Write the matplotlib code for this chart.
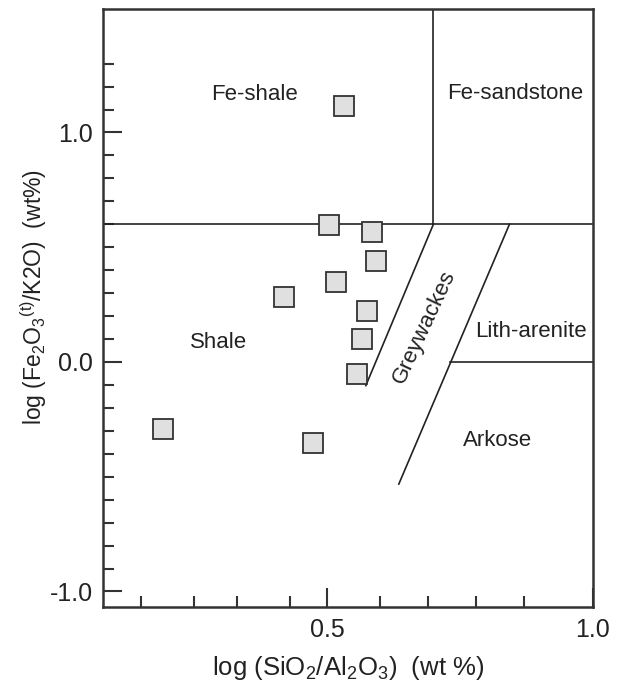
import matplotlib
matplotlib.use('Agg')
import matplotlib.pyplot as plt

plt.rcParams['font.family'] = ['Liberation Sans', 'DejaVu Sans']
plt.rcParams['mathtext.fontset'] = 'custom'
plt.rcParams['mathtext.rm'] = 'Liberation Sans'
plt.rcParams['mathtext.it'] = 'Liberation Sans:italic'

# ---------- SAMPLES ----------
log_si_al = [0.532, 0.504, 0.584, 0.592, 0.517, 0.420, 0.575, 0.565, 0.557, 0.191, 0.473]
log_fe_k = [1.115, 0.597, 0.565, 0.441, 0.347, 0.282, 0.221, 0.099, -0.052, -0.291, -0.354]

# ---------- HERRON FIELD BOUNDARIES ----------
fe_limit = 0.6
seg_x = [[0.70, 0.70], [0.70, 0.573], [0.843, 0.635], [0.732, 1.0]]
seg_y = [[0.60, 1.60], [0.60, -0.103], [0.60, -0.532], [0.0, 0.0]]

fields = ['Fe-shale', 'Fe-sandstone', 'Shale', 'Lith-arenite', 'Arkose', 'Greywackes']
field_xy = [(0.363, 1.165), (0.853, 1.168), (0.296, 0.086),
            (0.884, 0.134), (0.821, -0.341), (0.682, 0.154)]
field_rot = [0, 0, 0, 0, 0, 65]

# ---------- PLOT ----------
fig = plt.figure(figsize=(6.18, 6.82), dpi=100)
ax = fig.add_axes([0.1667, 0.11, 0.7928, 0.8768])

ink = '#222222'
ax.axhline(fe_limit, color=ink, lw=1.2)
for xs, ys in zip(seg_x, seg_y):
    ax.plot(xs, ys, color=ink, lw=1.2)

ax.plot(log_si_al, log_fe_k, ls='none', marker='s', ms=14.5,
        mfc='#e0e0e0', mec='#333333', mew=1.3, zorder=3)

for name, (tx, ty), rot in zip(fields, field_xy, field_rot):
    ax.text(tx, ty, name, ha='center', va='center', rotation=rot,
            rotation_mode='anchor', fontsize=16, color=ink)

ax.set_xlim(0.079, 1.0)
ax.set_ylim(-1.0675, 1.538)

ax.set_xticks([0.5, 1.0])
ax.set_xticklabels(['0.5', '1.0'])
ax.set_xticks([0.15, 0.25, 0.33, 0.43, 0.6, 0.69, 0.78, 0.87], minor=True)
ax.set_yticks([-1.0, 0.0, 1.0])
ax.set_yticklabels(['-1.0', '0.0', '1.0'])
ax.set_yticks([v / 10 for v in range(-9, 14) if v % 10 != 0], minor=True)

ax.tick_params(which='both', direction='in', top=False, right=False,
               color='#333333', width=1.5, labelsize=18, labelcolor=ink)
ax.tick_params(which='major', length=14, pad=7)
ax.tick_params(axis='x', which='major', pad=8)
ax.tick_params(which='minor', length=8)

for s in ax.spines.values():
    s.set_linewidth(1.8)
    s.set_color('#333333')

ax.set_xlabel(r'log (SiO$_2$/Al$_2$O$_3$)  (wt %)', fontsize=18.5, color=ink, labelpad=8.5)
ax.set_ylabel(r'log (Fe$_2$O$_3$$^{\mathrm{(t)}}$/K2O)  (wt%)', fontsize=16.5, color=ink)
ax.yaxis.set_label_coords(-0.11, 0.518)

fig.savefig('out.png', dpi=100)
